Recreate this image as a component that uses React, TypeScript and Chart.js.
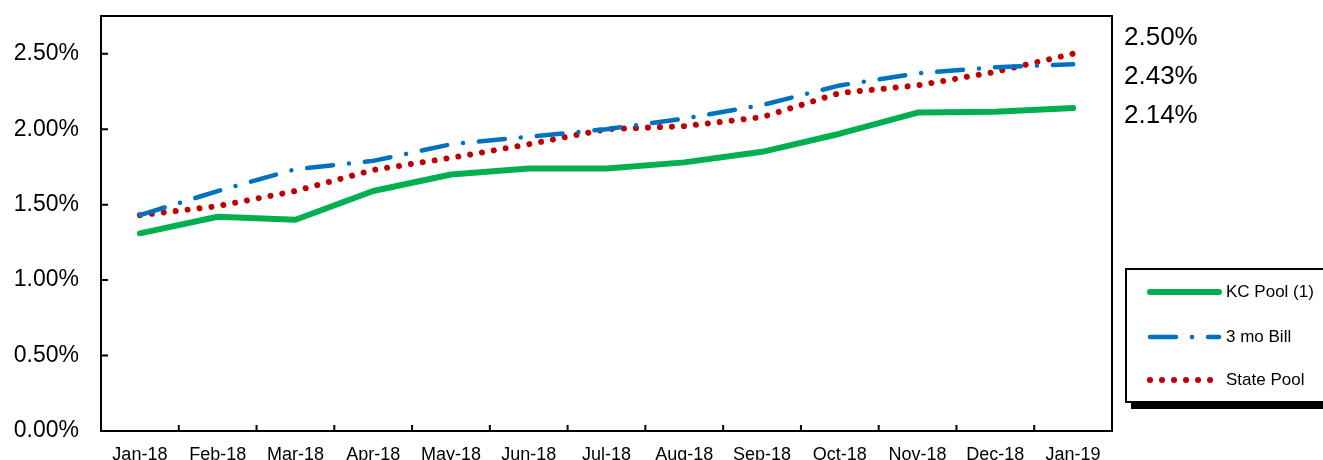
import React, { useEffect, useRef } from "react";
import { Chart, registerables } from "chart.js";

Chart.register(...registerables);

const labels = ["Jan-18", "Feb-18", "Mar-18", "Apr-18", "May-18", "Jun-18", "Jul-18", "Aug-18", "Sep-18", "Oct-18", "Nov-18", "Dec-18", "Jan-19"];
const kcPool = [1.31, 1.42, 1.40, 1.59, 1.70, 1.74, 1.74, 1.78, 1.85, 1.97, 2.11, 2.115, 2.14];
const threeMoBill = [1.43, 1.59, 1.735, 1.79, 1.90, 1.95, 2.00, 2.07, 2.16, 2.29, 2.37, 2.41, 2.43];
const statePool = [1.43, 1.49, 1.59, 1.73, 1.81, 1.90, 2.00, 2.02, 2.08, 2.24, 2.29, 2.38, 2.50];
const seriesNames = ["KC Pool (1)", "3 mo Bill", "State Pool"];

const GREEN = "#00B050";
const BLUE = "#0070C0";
const RED = "#C00000";
const FONT = "'Liberation Sans', Arial, sans-serif";
const BLUE_DASH = [26, 16, 0.01, 16];
const RED_DASH = [0.01, 12];

const decor = {
  id: "decor",
  afterDraw(chart: any) {
    const { ctx, chartArea: a, scales } = chart;
    const x = scales.x;
    const y = scales.y;
    ctx.save();
    // frame
    ctx.strokeStyle = "#000";
    ctx.lineWidth = 2;
    ctx.setLineDash([]);
    ctx.strokeRect(a.left, a.top, a.right - a.left, a.bottom - a.top);
    // inward ticks
    ctx.beginPath();
    y.ticks.forEach((t: any) => {
      const py = y.getPixelForValue(t.value);
      if (py < a.bottom - 2) {
        ctx.moveTo(a.left, py);
        ctx.lineTo(a.left + 7, py);
      }
    });
    for (let i = 1; i < labels.length; i++) {
      const px = (x.getPixelForValue(i - 1) + x.getPixelForValue(i)) / 2;
      ctx.moveTo(px, a.bottom);
      ctx.lineTo(px, a.bottom - 6);
    }
    ctx.stroke();

    // right-side end values
    const ends = [statePool[statePool.length - 1], threeMoBill[threeMoBill.length - 1], kcPool[kcPool.length - 1]];
    ctx.fillStyle = "#000";
    ctx.font = `26px ${FONT}`;
    ctx.textAlign = "left";
    ctx.textBaseline = "middle";
    ends.forEach((v, i) => {
      ctx.fillText(v.toFixed(2) + "%", a.right + 12, a.top + 22 + i * 39);
    });

    // legend box with shadow
    const bx = a.right + 14;
    const by = 269;
    const bw = 220;
    const bh = 133;
    ctx.fillStyle = "#000";
    ctx.fillRect(bx + 5, by + bh, bw, 7);
    ctx.fillStyle = "#fff";
    ctx.fillRect(bx, by, bw, bh);
    ctx.strokeStyle = "#000";
    ctx.lineWidth = 2;
    ctx.strokeRect(bx, by, bw, bh);

    const items = [
      { color: GREEN, width: 6, dash: [] as number[], y: by + 23 },
      { color: BLUE, width: 4.5, dash: BLUE_DASH, y: by + 68 },
      { color: RED, width: 6, dash: RED_DASH, y: by + 111 },
    ];
    items.forEach((it, i) => {
      ctx.beginPath();
      ctx.strokeStyle = it.color;
      ctx.lineWidth = it.width;
      ctx.lineCap = "round";
      ctx.setLineDash(it.dash);
      ctx.moveTo(bx + 24, it.y);
      ctx.lineTo(bx + 93, it.y);
      ctx.stroke();
      ctx.setLineDash([]);
      ctx.fillStyle = "#000";
      ctx.font = `17px ${FONT}`;
      ctx.textAlign = "left";
      ctx.textBaseline = "middle";
      ctx.fillText(seriesNames[i], bx + 100, it.y);
    });
    ctx.restore();
  },
};

export default function App() {
  const ref = useRef<HTMLCanvasElement>(null);
  useEffect(() => {
    if (!ref.current) return;
    const chart = new Chart(ref.current, {
      type: "line",
      data: {
        labels,
        datasets: [
          {
            label: seriesNames[0],
            data: kcPool,
            borderColor: GREEN,
            borderWidth: 6,
            pointRadius: 0,
            tension: 0,
            borderJoinStyle: "round",
            borderCapStyle: "round",
          },
          {
            label: seriesNames[1],
            data: threeMoBill,
            borderColor: BLUE,
            borderWidth: 4.5,
            borderDash: BLUE_DASH,
            pointRadius: 0,
            tension: 0,
            borderCapStyle: "round",
          },
          {
            label: seriesNames[2],
            data: statePool,
            borderColor: RED,
            borderWidth: 6,
            borderDash: RED_DASH,
            pointRadius: 0,
            tension: 0,
            borderCapStyle: "round",
          },
        ],
      },
      options: {
        responsive: false,
        animation: false,
        devicePixelRatio: 1,
        layout: { padding: { top: 16, right: 211, left: 0, bottom: 0 } },
        plugins: { legend: { display: false }, tooltip: { enabled: false } },
        scales: {
          x: {
            offset: true,
            grid: { display: false, drawTicks: false, offset: true },
            border: { display: false },
            ticks: {
              color: "#000",
              font: { family: FONT, size: 18 },
              padding: 13,
              maxRotation: 0,
              autoSkip: false,
            },
            afterFit: (s: any) => {
              s.height = 29;
              s.paddingLeft = 0;
              s.paddingRight = 0;
              s.paddingTop = 0;
              s.paddingBottom = 0;
            },
          },
          y: {
            min: 0,
            max: 2.75,
            grid: { display: false, drawTicks: false },
            border: { display: false },
            ticks: {
              stepSize: 0.5,
              includeBounds: false,
              color: "#000",
              font: { family: FONT, size: 23 },
              padding: 22,
              callback: (v: any) => Number(v).toFixed(2) + "%",
            },
            afterFit: (s: any) => {
              s.width = 101;
              s.paddingTop = 0;
              s.paddingBottom = 0;
              s.paddingLeft = 0;
              s.paddingRight = 0;
            },
          },
        },
      },
      plugins: [decor],
    });
    return () => chart.destroy();
  }, []);
  return (
    <div style={{ position: "absolute", left: 0, top: 0, width: 1323, height: 460, background: "#fff" }}>
      <canvas ref={ref} width={1323} height={460} style={{ display: "block" }} />
    </div>
  );
}
